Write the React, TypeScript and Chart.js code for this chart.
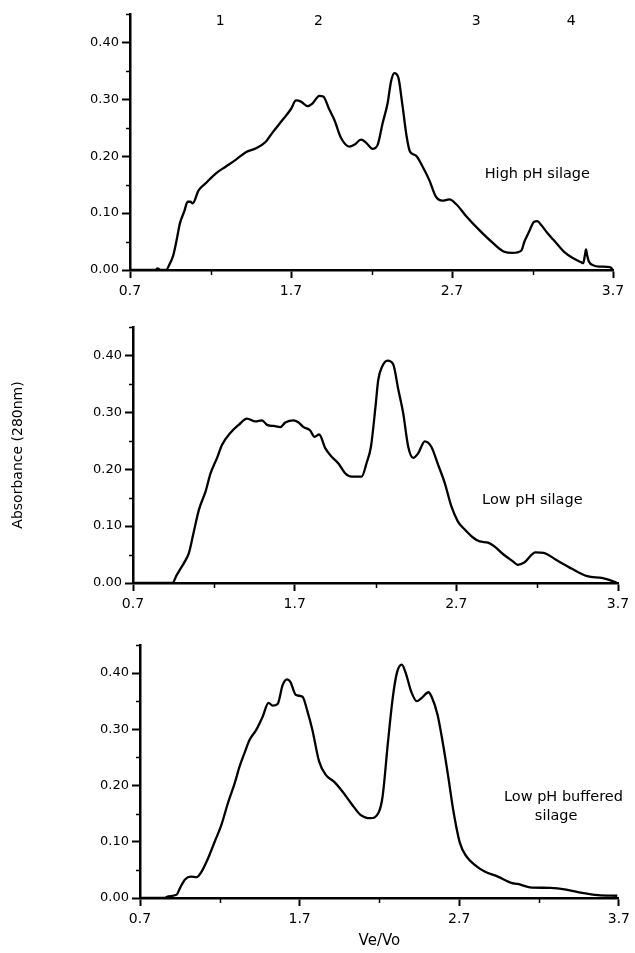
import React, { useEffect, useRef } from 'react';
import { Chart, registerables } from 'chart.js';

Chart.register(...registerables);

// ---------- data ----------
const highPhX = [0.70, 0.86, 0.871, 0.89, 0.924, 0.944, 0.969, 0.99, 1.01, 1.037, 1.058, 1.075, 1.089, 1.126, 1.172, 1.234, 1.296, 1.358, 1.42, 1.483, 1.545, 1.586, 1.648, 1.70, 1.731, 1.762, 1.803, 1.834, 1.876, 1.90, 1.938, 1.969, 2.011, 2.062, 2.093, 2.135, 2.166, 2.207, 2.238, 2.269, 2.30, 2.321, 2.342, 2.366, 2.393, 2.418, 2.439, 2.476, 2.517, 2.559, 2.60, 2.64, 2.683, 2.725, 2.787, 2.87, 2.952, 3.025, 3.076, 3.13, 3.15, 3.18, 3.21, 3.23, 3.254, 3.29, 3.33, 3.37, 3.40, 3.45, 3.50, 3.515, 3.525, 3.532, 3.54, 3.55, 3.58, 3.62, 3.68, 3.70];
const highPhY = [0, 0, 0.003, 0, 0, 0.009, 0.026, 0.053, 0.082, 0.103, 0.12, 0.12, 0.117, 0.14, 0.153, 0.17, 0.182, 0.194, 0.207, 0.214, 0.226, 0.242, 0.264, 0.283, 0.298, 0.296, 0.288, 0.293, 0.306, 0.305, 0.282, 0.264, 0.232, 0.217, 0.22, 0.229, 0.224, 0.213, 0.22, 0.258, 0.293, 0.331, 0.346, 0.339, 0.288, 0.235, 0.208, 0.201, 0.182, 0.158, 0.129, 0.122, 0.124, 0.116, 0.095, 0.07, 0.048, 0.032, 0.030, 0.034, 0.05, 0.068, 0.085, 0.086, 0.079, 0.066, 0.053, 0.04, 0.031, 0.021, 0.014, 0.012, 0.025, 0.036, 0.025, 0.015, 0.008, 0.006, 0.005, 0.001];

const lowPhX = [0.70, 0.95, 0.953, 1.021, 1.046, 1.072, 1.108, 1.149, 1.18, 1.22, 1.251, 1.303, 1.354, 1.405, 1.457, 1.498, 1.529, 1.57, 1.611, 1.642, 1.693, 1.724, 1.755, 1.796, 1.823, 1.852, 1.889, 1.929, 1.971, 2.012, 2.053, 2.114, 2.145, 2.172, 2.2, 2.217, 2.242, 2.275, 2.31, 2.341, 2.371, 2.402, 2.433, 2.464, 2.505, 2.546, 2.587, 2.628, 2.669, 2.71, 2.752, 2.803, 2.844, 2.896, 2.937, 2.988, 3.05, 3.08, 3.12, 3.19, 3.24, 3.316, 3.415, 3.51, 3.6, 3.64, 3.69];
const lowPhY = [0, 0, 0.003, 0.038, 0.053, 0.085, 0.129, 0.161, 0.193, 0.22, 0.243, 0.264, 0.278, 0.289, 0.284, 0.286, 0.278, 0.276, 0.274, 0.282, 0.286, 0.282, 0.274, 0.268, 0.257, 0.261, 0.237, 0.222, 0.21, 0.193, 0.187, 0.187, 0.211, 0.24, 0.31, 0.357, 0.381, 0.391, 0.384, 0.34, 0.299, 0.24, 0.22, 0.228, 0.249, 0.239, 0.208, 0.176, 0.135, 0.108, 0.094, 0.08, 0.073, 0.071, 0.064, 0.051, 0.038, 0.032, 0.036, 0.054, 0.053, 0.041, 0.025, 0.012, 0.009, 0.006, 0.001];

const bufferedX = [0.70, 0.85, 0.878, 0.93, 0.951, 0.982, 1.019, 1.055, 1.086, 1.127, 1.169, 1.21, 1.251, 1.293, 1.324, 1.355, 1.386, 1.428, 1.469, 1.505, 1.531, 1.562, 1.594, 1.621, 1.641, 1.677, 1.718, 1.749, 1.78, 1.822, 1.864, 1.915, 1.967, 2.029, 2.081, 2.144, 2.195, 2.22, 2.253, 2.282, 2.309, 2.34, 2.365, 2.399, 2.434, 2.465, 2.507, 2.527, 2.564, 2.594, 2.631, 2.662, 2.704, 2.745, 2.797, 2.859, 2.942, 3.025, 3.066, 3.142, 3.27, 3.37, 3.47, 3.57, 3.69];
const bufferedY = [0, 0, 0.003, 0.006, 0.018, 0.033, 0.038, 0.037, 0.047, 0.071, 0.101, 0.13, 0.169, 0.204, 0.234, 0.258, 0.281, 0.299, 0.323, 0.347, 0.342, 0.345, 0.379, 0.389, 0.385, 0.361, 0.358, 0.332, 0.299, 0.243, 0.219, 0.207, 0.19, 0.166, 0.148, 0.142, 0.152, 0.181, 0.276, 0.353, 0.40, 0.415, 0.40, 0.367, 0.35, 0.356, 0.366, 0.358, 0.326, 0.281, 0.216, 0.157, 0.098, 0.074, 0.059, 0.047, 0.038, 0.027, 0.025, 0.019, 0.018, 0.015, 0.009, 0.005, 0.004];

const xTickValues = [0.7, 1.2, 1.7, 2.2, 2.7, 3.2, 3.7];
const xTickLabels = ['0.7', '', '1.7', '', '2.7', '', '3.7'];
const yTickValues = [0, 0.05, 0.1, 0.15, 0.2, 0.25, 0.3, 0.35, 0.4, 0.45];
const yTickLabels = ['0.00', '', '0.10', '', '0.20', '', '0.30', '', '0.40', ''];

const peakNumbers = ['1', '2', '3', '4'];
const peakNumberX = [1.26, 1.87, 2.85, 3.44];
const peakNumberY = 0.437;

const yAxisTitle = 'Absorbance (280nm)';
const xAxisTitle = 'Ve/Vo';

// ---------- styles ----------
const FONT = "'DejaVu Sans', sans-serif";
const INK = '#000';

const panelText = {
  id: 'panelText',
  afterDatasetsDraw(chart: any, _args: any, opts: any) {
    const { ctx } = chart;
    const xs = chart.scales.x;
    const ys = chart.scales.y;
    ctx.save();
    ctx.fillStyle = INK;
    ctx.textAlign = 'center';
    ctx.textBaseline = 'middle';
    for (const it of opts.items || []) {
      ctx.font = `${it.size}px ${FONT}`;
      ctx.fillText(it.text, xs.getPixelForValue(it.x), ys.getPixelForValue(it.y));
    }
    ctx.restore();
  },
};

const minorTicks = {
  id: 'minorTicks',
  afterDraw(chart: any) {
    const { ctx } = chart;
    const xs = chart.scales.x;
    const ys = chart.scales.y;
    ctx.save();
    ctx.strokeStyle = INK;
    ctx.lineWidth = 1.5;
    ctx.beginPath();
    xTickValues.forEach((v, i) => {
      if (xTickLabels[i] === '') {
        const px = Math.round(xs.getPixelForValue(v)) + 0.5;
        ctx.moveTo(px, xs.top);
        ctx.lineTo(px, xs.top + 5);
      }
    });
    yTickValues.forEach((v, i) => {
      if (yTickLabels[i] === '') {
        const py = Math.round(ys.getPixelForValue(v)) + 0.5;
        ctx.moveTo(ys.right, py);
        ctx.lineTo(ys.right - 4, py);
      }
    });
    ctx.stroke();
    ctx.restore();
  },
};

type PanelCfg = {
  xs: number[];
  ys: number[];
  top: number;
  height: number;
  padTop: number;
  padRight: number;
  yWidth: number;
  xHeight: number;
  texts: { text: string; x: number; y: number; size: number }[];
  yTitle?: string;
  xTitle?: string;
};

const panels: PanelCfg[] = [
  {
    xs: highPhX, ys: highPhY, top: 0, height: 300, padTop: 14, padRight: 22, yWidth: 130, xHeight: 30,
    texts: [
      ...peakNumbers.map((t, i) => ({ text: t, x: peakNumberX[i], y: peakNumberY, size: 14 })),
      { text: 'High pH silage', x: 3.23, y: 0.169, size: 14.5 },
    ],
  },
  {
    xs: lowPhX, ys: lowPhY, top: 300, height: 315, padTop: 27, padRight: 17, yWidth: 133, xHeight: 32,
    texts: [{ text: 'Low pH silage', x: 3.17, y: 0.146, size: 14.5 }],
    yTitle: yAxisTitle,
  },
  {
    xs: bufferedX, ys: bufferedY, top: 615, height: 338, padTop: 30, padRight: 16, yWidth: 140, xHeight: 55,
    texts: [
      { text: 'Low pH buffered', x: 3.353, y: 0.18, size: 14.5 },
      { text: 'silage', x: 3.307, y: 0.146, size: 14.5 },
    ],
    xTitle: xAxisTitle,
  },
];

function Panel({ cfg }: { cfg: PanelCfg }) {
  const ref = useRef<HTMLCanvasElement>(null);
  useEffect(() => {
    const chart = new Chart(ref.current as HTMLCanvasElement, {
      type: 'line',
      data: {
        datasets: [
          {
            data: cfg.xs.map((x, i) => ({ x, y: cfg.ys[i] })),
            borderColor: INK,
            borderWidth: 2.3,
            pointRadius: 0,
            fill: false,
            cubicInterpolationMode: 'monotone',
          },
        ],
      },
      options: {
        animation: false,
        responsive: false,
        devicePixelRatio: 1,
        events: [],
        layout: { padding: { top: cfg.padTop, right: cfg.padRight, left: 0, bottom: 0 } },
        plugins: {
          legend: { display: false },
          tooltip: { enabled: false },
          panelText: { items: cfg.texts },
        } as any,
        scales: {
          x: {
            type: 'linear',
            min: 0.7,
            max: 3.7,
            afterBuildTicks: (s: any) => {
              s.ticks = xTickValues.map((v) => ({ value: v }));
            },
            afterFit: (s: any) => {
              s.height = cfg.xHeight;
            },
            ticks: {
              autoSkip: false,
              maxRotation: 0,
              padding: 5,
              color: INK,
              font: { family: FONT, size: 14 },
              callback: (_v: any, i: number) => xTickLabels[i],
            },
            grid: {
              display: true,
              drawOnChartArea: false,
              drawTicks: true,
              tickLength: 8,
              tickColor: INK,
              tickWidth: (c: any) => (xTickLabels[c.index] ? 2 : 0),
            },
            border: { display: true, color: INK, width: 2.5 },
            title: {
              display: !!cfg.xTitle,
              text: cfg.xTitle || '',
              color: INK,
              font: { family: FONT, size: 15 },
              padding: { top: 0, bottom: 3 },
            },
          },
          y: {
            type: 'linear',
            min: 0,
            max: 0.45,
            afterBuildTicks: (s: any) => {
              s.ticks = yTickValues.map((v) => ({ value: v }));
            },
            afterFit: (s: any) => {
              s.width = cfg.yWidth;
            },
            ticks: {
              autoSkip: false,
              padding: 3,
              color: INK,
              font: { family: FONT, size: 13 },
              callback: (_v: any, i: number) => yTickLabels[i],
            },
            grid: {
              display: true,
              drawOnChartArea: false,
              drawTicks: true,
              tickLength: 8,
              tickColor: INK,
              tickWidth: (c: any) => (yTickLabels[c.index] ? 2 : 0),
            },
            border: { display: true, color: INK, width: 2.5 },
            title: {
              display: !!cfg.yTitle,
              text: cfg.yTitle || '',
              color: INK,
              font: { family: FONT, size: 14 },
              padding: { top: 10, bottom: 0 },
            },
          },
        },
      } as any,
      plugins: [panelText, minorTicks],
    });
    return () => chart.destroy();
  }, [cfg]);
  return (
    <canvas
      ref={ref}
      width={635}
      height={cfg.height}
      style={{ position: 'absolute', left: 0, top: cfg.top, width: 635, height: cfg.height, display: 'block' }}
    />
  );
}

export default function App() {
  return (
    <div style={{ position: 'absolute', left: 0, top: 0, width: 635, height: 953, background: '#fff', overflow: 'hidden' }}>
      {panels.map((p, i) => (
        <Panel key={i} cfg={p} />
      ))}
    </div>
  );
}
